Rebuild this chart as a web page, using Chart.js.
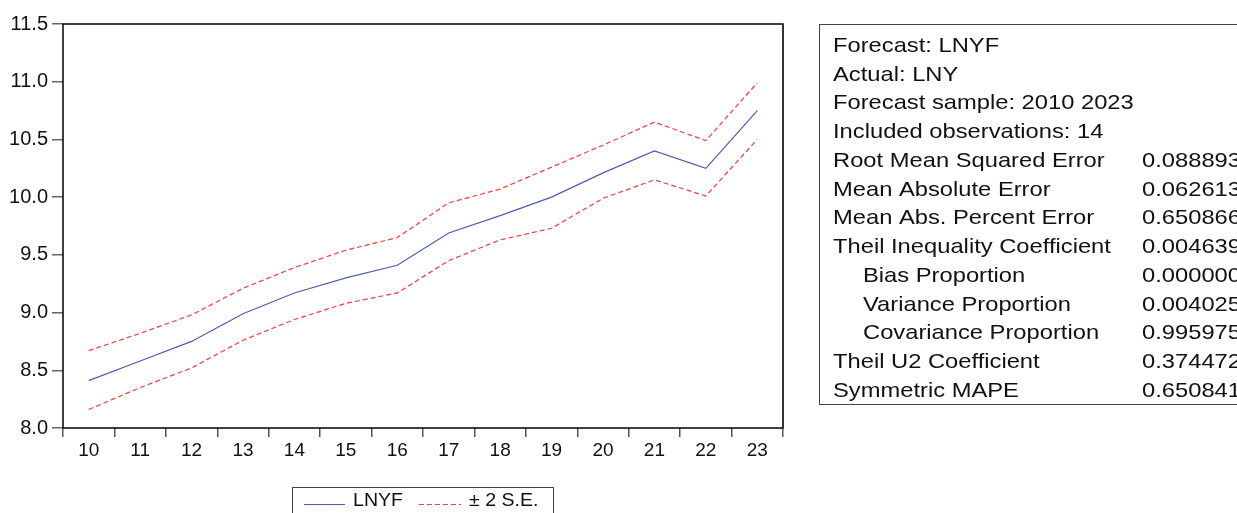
<!DOCTYPE html>
<html>
<head>
<meta charset="utf-8">
<script src="https://cdn.jsdelivr.net/npm/chart.js@4.4.0/dist/chart.umd.min.js"></script>
<style>
html,body{margin:0;padding:0;background:#fff;}
#wrap{width:1237px;height:513px;position:relative;}
</style>
</head>
<body>
<div id="wrap"><canvas id="c"></canvas></div>
<script>
// ---- data ----
const years = ['10','11','12','13','14','15','16','17','18','19','20','21','22','23'];
const lnyf  = [8.41, 8.58, 8.75, 8.99, 9.17, 9.30, 9.41, 9.69, 9.84, 10.00, 10.21, 10.40, 10.25, 10.75];
const upper = [8.67, 8.82, 8.98, 9.21, 9.39, 9.54, 9.65, 9.95, 10.07, 10.26, 10.45, 10.65, 10.49, 10.99];
const lower = [8.16, 8.35, 8.52, 8.76, 8.94, 9.08, 9.17, 9.45, 9.63, 9.73, 9.99, 10.15, 10.01, 10.50];
const yTicks = [8.0, 8.5, 9.0, 9.5, 10.0, 10.5, 11.0, 11.5];
const seriesNames = ['LNYF', '± 2 S.E.'];
const statLabels = ['Forecast: LNYF','Actual: LNY','Forecast sample: 2010 2023','Included observations: 14',
  'Root Mean Squared Error','Mean Absolute Error','Mean Abs. Percent Error','Theil Inequality Coefficient',
  'Bias Proportion','Variance Proportion','Covariance Proportion','Theil U2 Coefficient','Symmetric MAPE'];
const statValues = ['','','','','0.088893','0.062613','0.650866','0.004639','0.000000','0.004025','0.995975','0.374472','0.650841'];
const statIndent = [0,0,0,0,0,0,0,0,1,1,1,0,0];

const FONT = '"Liberation Sans", Arial, sans-serif';
const BLUE = '#4a5fb4';
const RED = '#ff3a3a';

function sText(ctx, t, x, y, sx){
  ctx.save(); ctx.translate(x, y); ctx.scale(sx, 1); ctx.fillText(t, 0, 0); ctx.restore();
}

const decor = {
  id: 'decor',
  beforeDraw(chart){
    const ctx = chart.ctx;
    ctx.save(); ctx.fillStyle = '#fff'; ctx.fillRect(0,0,chart.width,chart.height); ctx.restore();
  },
  afterDraw(chart){
    const ctx = chart.ctx, a = chart.chartArea;
    ctx.save();
    // plot frame
    ctx.strokeStyle = '#000'; ctx.lineWidth = 1.5;
    ctx.strokeRect(a.left, a.top, a.right - a.left, a.bottom - a.top);
    ctx.strokeStyle = '#333'; ctx.lineWidth = 2;
    ctx.beginPath(); ctx.moveTo(a.right, a.top); ctx.lineTo(a.right, a.bottom); ctx.stroke();

    // legend
    ctx.strokeStyle = '#444'; ctx.lineWidth = 1;
    ctx.strokeRect(292.5, 487.5, 261, 40);
    ctx.strokeStyle = BLUE; ctx.beginPath(); ctx.moveTo(304, 504.5); ctx.lineTo(345, 504.5); ctx.stroke();
    ctx.strokeStyle = RED; ctx.setLineDash([5,3]); ctx.beginPath(); ctx.moveTo(419, 504.5); ctx.lineTo(461, 504.5); ctx.stroke();
    ctx.setLineDash([]);
    ctx.fillStyle = '#111'; ctx.font = '19px ' + FONT; ctx.textBaseline = 'middle'; ctx.textAlign = 'left';
    sText(ctx, seriesNames[0], 353, 501, 1.03);
    sText(ctx, seriesNames[1], 469, 501, 1.03);

    // stats box
    ctx.strokeStyle = '#444'; ctx.lineWidth = 1;
    ctx.strokeRect(819.5, 24.5, 440, 380);
    ctx.font = '21px ' + FONT; ctx.fillStyle = '#111'; ctx.textBaseline = 'middle';
    for (let i = 0; i < statLabels.length; i++) {
      const y = 46 + 28.75 * i;
      sText(ctx, statLabels[i], statIndent[i] ? 863 : 833, y, 1.13);
      if (statValues[i]) sText(ctx, statValues[i], 1142, y, 1.13);
    }
    ctx.restore();
  }
};

new Chart(document.getElementById('c'), {
  type: 'line',
  data: {
    labels: years,
    datasets: [
      { label: seriesNames[0], data: lnyf, borderColor: BLUE, borderWidth: 1.2, pointRadius: 0, tension: 0, fill: false },
      { label: seriesNames[1], data: upper, borderColor: RED, borderWidth: 1.2, borderDash: [5,3], pointRadius: 0, tension: 0, fill: false },
      { label: seriesNames[1] + ' lower', data: lower, borderColor: RED, borderWidth: 1.2, borderDash: [5,3], pointRadius: 0, tension: 0, fill: false }
    ]
  },
  options: {
    responsive: true,
    maintainAspectRatio: false,
    animation: false,
    layout: { padding: { left: 0, top: 24, right: 454, bottom: 0 } },
    plugins: { legend: { display: false }, tooltip: { enabled: false } },
    scales: {
      x: {
        type: 'category',
        offset: true,
        grid: { offset: true, drawOnChartArea: false, drawTicks: true, tickLength: 9, color: '#555', lineWidth: 1.5 },
        border: { display: false },
        ticks: { color: '#111', font: { family: FONT, size: 19 }, padding: 2, maxRotation: 0, autoSkip: false },
        afterFit(s){ s.height = 85; }
      },
      y: {
        min: 8, max: 11.5,
        afterBuildTicks(s){ s.ticks = yTicks.map(v => ({ value: v })); },
        grid: { drawOnChartArea: false, drawTicks: true, tickLength: 11, color: '#666', lineWidth: 1.5 },
        border: { display: false },
        ticks: { color: '#111', font: { family: FONT, size: 20 }, padding: 4, callback: v => Number(v).toFixed(1) },
        afterFit(s){ s.width = 63; }
      }
    }
  },
  plugins: [decor]
});
</script>
</body>
</html>
